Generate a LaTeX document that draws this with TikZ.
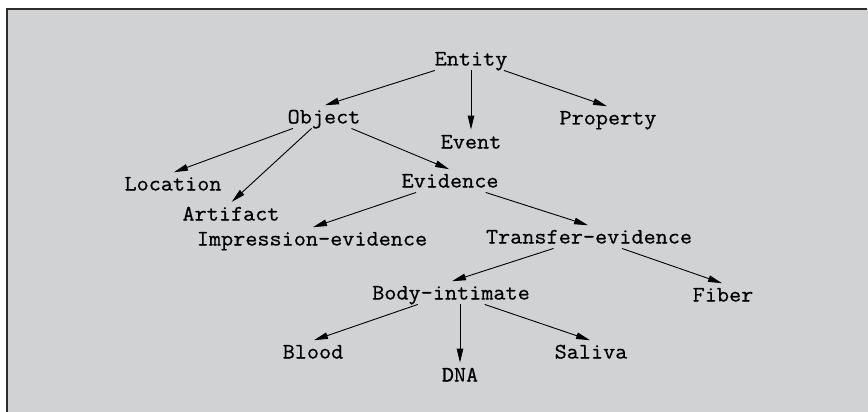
\documentclass[tikz,border=0pt]{standalone}
\usepackage{fontspec}
\setmonofont{Latin Modern Mono}[FakeBold=0.6,FakeStretch=1.07]
\usetikzlibrary{arrows.meta}
\definecolor{panel}{RGB}{209,210,212}
\definecolor{rim}{RGB}{45,45,45}

\begin{document}
\begin{tikzpicture}[x=1pt,y=-1pt,shorten >=1pt,line width=0.9pt,>={Triangle[length=14pt,width=6.5pt]}]
    \tikzstyle{every node}=[font=\fontsize{22}{26}\selectfont\ttfamily,inner xsep=2pt,inner ysep=4.5pt,text height=13pt,text depth=0pt]

    \useasboundingbox (0,0) rectangle (868,412);
    \fill[panel] (7,9) rectangle (868,412);
    \draw[rim,line width=1.4pt] (7,412) -- (7,9) -- (868,9);

    \node (entity)     at (471,59)  {Entity};
    \node (object)     at (324,117) {Object};
    \node (event)      at (471,142) {Event};
    \node (property)   at (608,118) {Property};
    \node (location)   at (173,184) {Location};
    \node (artifact)   at (231,214) {Artifact};
    \node (evidence)   at (450,181) {Evidence};
    \node (impression) at (312,239) {Impression-evidence};
    \node (transfer)   at (589,237) {Transfer-evidence};
    \node (fiber)      at (723,295) {Fiber};
    \node (body)       at (451,293) {Body-intimate};
    \node (blood)      at (313,352) {Blood};
    \node (dna)        at (460,375) {DNA};
    \node (saliva)     at (591,352) {Saliva};

    \path[->]
    (entity) edge (object.north)
    (entity) edge (event.north)
    (entity) edge (property.north)
    (object) edge (location.north)
    (object) edge (artifact.north)
    (object) edge (evidence.north)
    (evidence) edge (impression.north)
    (evidence) edge (transfer.north)
    (transfer) edge (body.north)
    (transfer) edge (fiber.north)
    (body) edge (blood.north)
    (dna |- body.south) edge (dna.north)
    (body) edge (saliva.north);
\end{tikzpicture}
\end{document}
